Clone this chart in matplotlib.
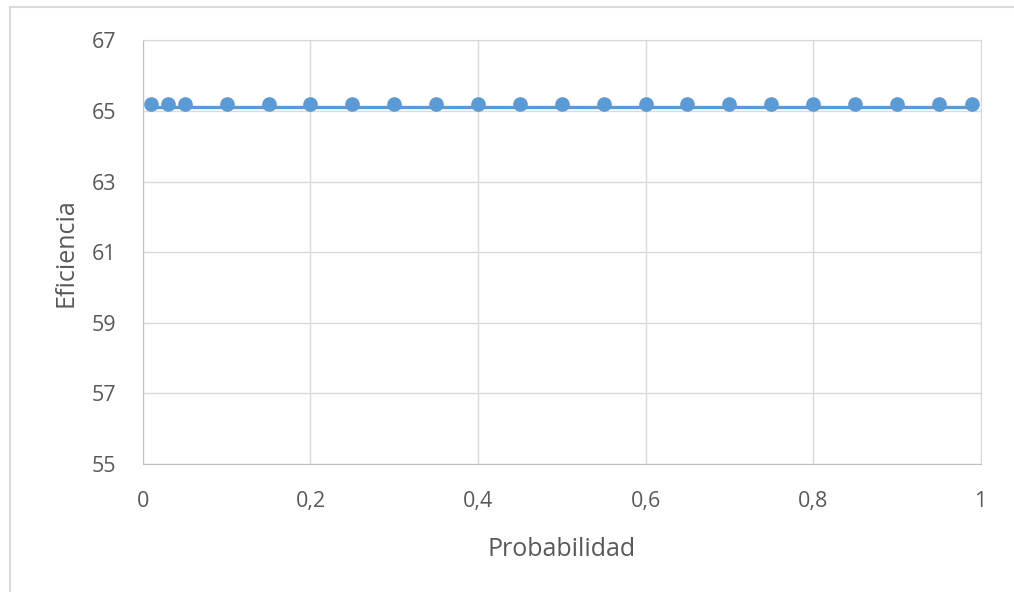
import matplotlib.pyplot as plt
from matplotlib.patches import Rectangle

# data
prob = [0.01, 0.03, 0.05, 0.1, 0.15, 0.2, 0.25, 0.3, 0.35, 0.4, 0.45,
        0.5, 0.55, 0.6, 0.65, 0.7, 0.75, 0.8, 0.85, 0.9, 0.95, 0.99]
eff = [65.2] * len(prob)
trend_x = [0.01, 0.99]
trend_y = [65.1, 65.1]

yticks = [55, 57, 59, 61, 63, 65, 67]
xticks = [0, 0.2, 0.4, 0.6, 0.8, 1]
xlabels = ['0', '0,2', '0,4', '0,6', '0,8', '1']

blue = '#5B9BD5'
grey = '#595959'
gridc = '#D9D9D9'

plt.rcParams['font.family'] = ['Open Sans', 'DejaVu Sans']

fig = plt.figure(figsize=(10.14, 5.92), dpi=100)
ax = fig.add_axes([0.141, 0.216, 0.826, 0.716])

# outer chart frame
fig.patches.append(Rectangle((10 / 1014, -0.1), 1.2, 1 - 7 / 592 + 0.1,
                             transform=fig.transFigure, fill=False,
                             edgecolor='#D9D9D9', linewidth=1.5))

ax.plot(trend_x, trend_y, color=blue, linewidth=2.4, zorder=3)
ax.plot(prob, eff, 'o', color=blue, markersize=9.5, zorder=4)

ax.set_xlim(0, 1)
ax.set_ylim(55, 67)
ax.set_xticks(xticks)
ax.set_xticklabels(xlabels)
ax.set_yticks(yticks)
ax.grid(True, color=gridc, linewidth=1)
ax.set_axisbelow(True)
for s in ax.spines.values():
    s.set_color(gridc)
ax.spines['left'].set_color('#BFBFBF')
ax.spines['bottom'].set_color('#BFBFBF')
ax.tick_params(length=0, colors=grey, labelsize=15.5)
ax.tick_params(axis='x', pad=19)
ax.tick_params(axis='y', pad=19)

ax.set_xlabel('Probabilidad', color=grey, fontsize=18, labelpad=18)
ax.set_ylabel('Eficiencia', color=grey, fontsize=18, labelpad=10)

plt.savefig('out.png', dpi=100)
plt.close()
